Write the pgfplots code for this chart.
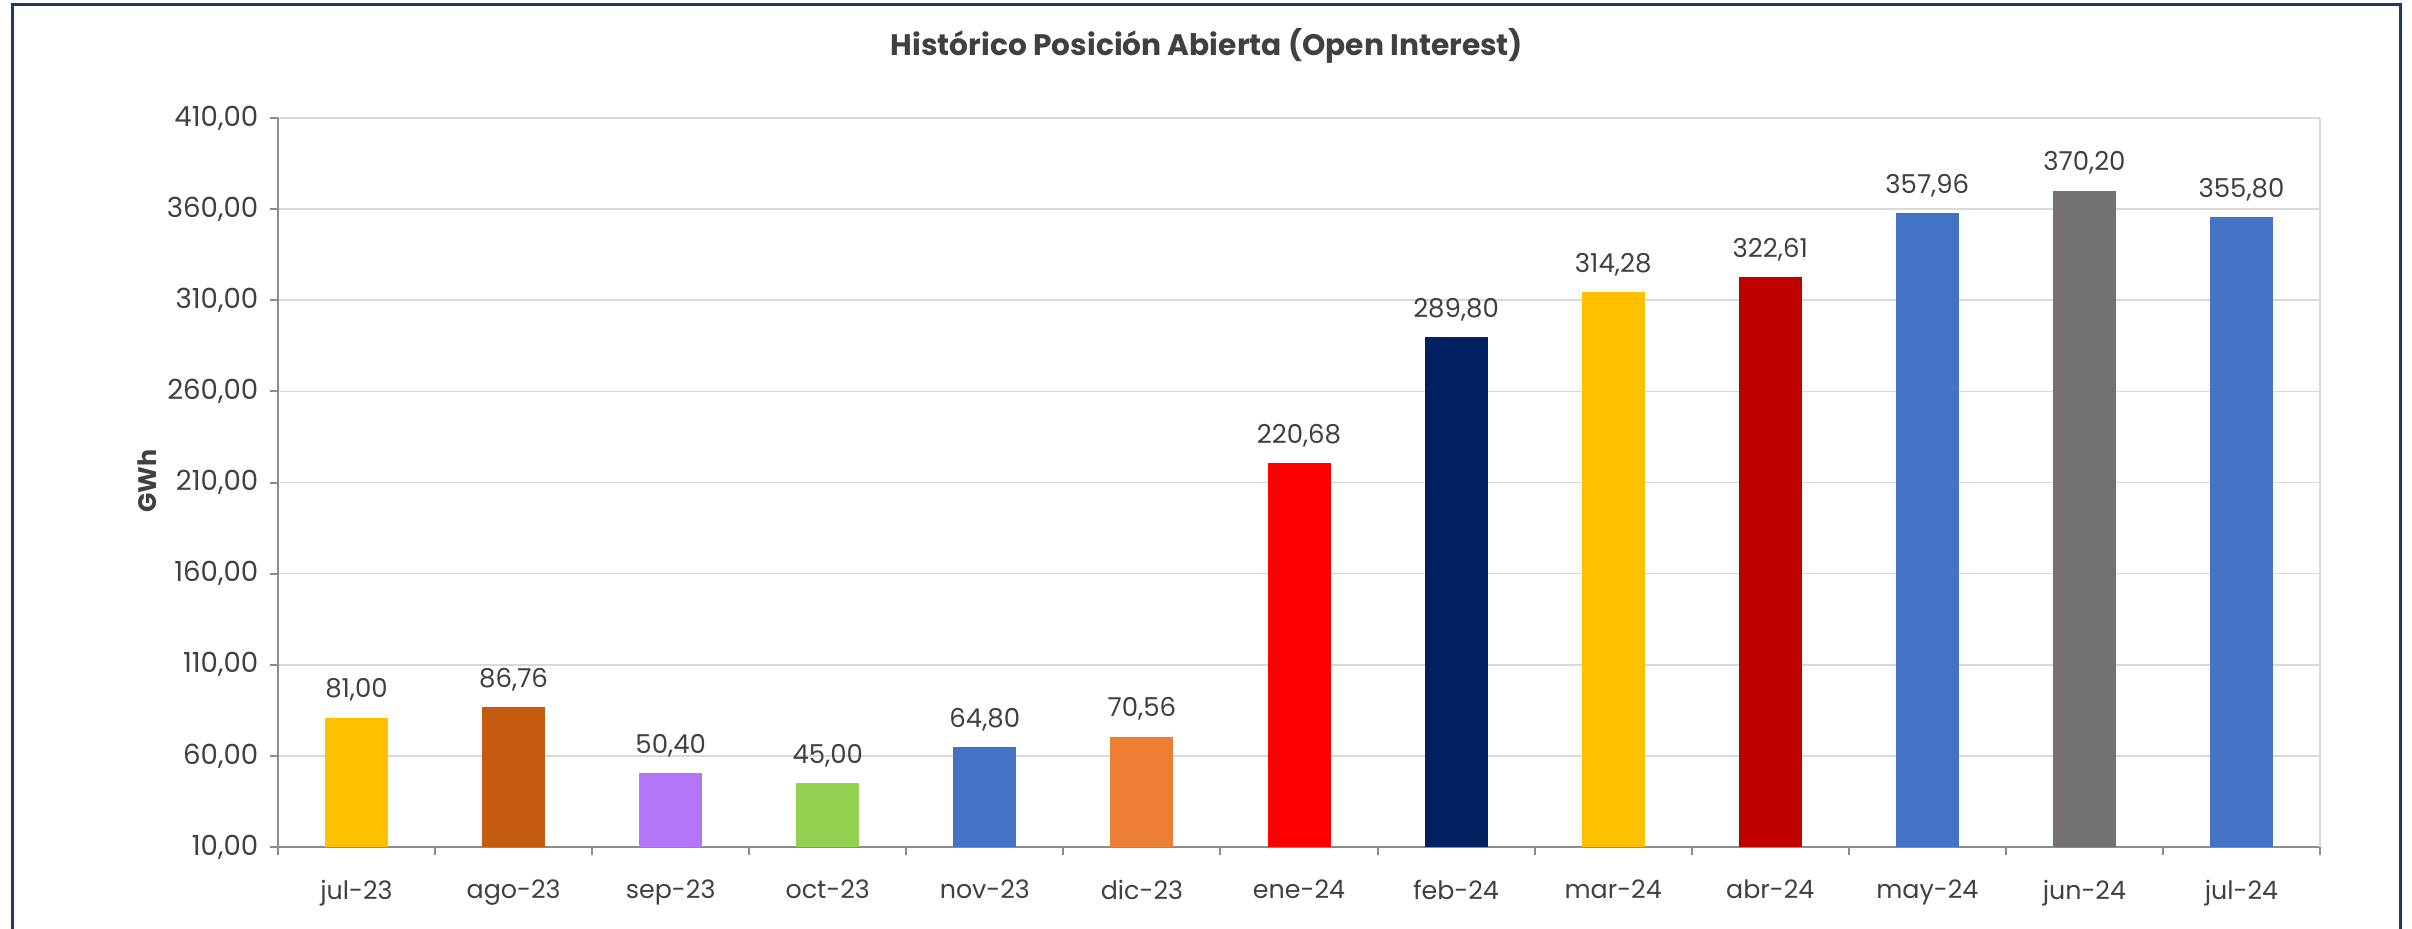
\documentclass[border=0pt]{standalone}
\usepackage{pgfplots}
\pgfplotsset{compat=1.18}
\usepackage{fontspec}
\setmainfont{Poppins}
\definecolor{txt}{HTML}{404040}
\definecolor{gridc}{HTML}{D9D9D9}
\definecolor{axc}{HTML}{8C8C8C}
\definecolor{frame}{HTML}{1F3864}
\definecolor{c1}{HTML}{FFC000}
\definecolor{c2}{HTML}{C55A11}
\definecolor{c3}{HTML}{B376F8}
\definecolor{c4}{HTML}{92D050}
\definecolor{c5}{HTML}{4472C4}
\definecolor{c6}{HTML}{ED7D31}
\definecolor{c7}{HTML}{FF0000}
\definecolor{c8}{HTML}{002060}
\definecolor{c9}{HTML}{FFC000}
\definecolor{c10}{HTML}{C00000}
\definecolor{c11}{HTML}{4472C4}
\definecolor{c12}{HTML}{767171}
\definecolor{c13}{HTML}{4472C4}
\begin{document}
\begin{tikzpicture}
\path[use as bounding box] (0pt,0pt) rectangle (723.6pt,278.7pt);
\draw[frame, line width=0.9pt] (3.6pt,277.2pt) -- (720pt,277.2pt) -- (720pt,-6pt) -- (3.6pt,-6pt) -- cycle;
\node[font=\bfseries\fontsize{8.9}{10}\selectfont, text=txt] at (362.1pt,264.9pt) {Histórico Posición Abierta (Open Interest)};
\node[font=\bfseries\fontsize{7.6}{9}\selectfont, text=txt, rotate=90] at (44.1pt,134.4pt) {GWh};
\begin{axis}[
  at={(83.4pt,24.6pt)}, anchor=south west,
  scale only axis, width=612.6pt, height=218.7pt,
  xmin=-0.5, xmax=12.5, ymin=10, ymax=410,
  ytick={10,60,...,410},
  xtick={0,...,12},
  xticklabels={jul-23,ago-23,sep-23,oct-23,nov-23,dic-23,ene-24,feb-24,mar-24,abr-24,may-24,jun-24,jul-24},
  minor xtick={-0.5,0.5,...,12.5},
  axis lines*=left,
  axis line style={axc, line width=0.6pt},
  ymajorgrids, grid style={gridc, line width=0.5pt},
  tick align=outside,
  major tick length=2.5pt, minor tick length=2.5pt,
  x tick style={draw=none},
  minor x tick style={draw=axc, line width=0.6pt},
  y tick style={axc, line width=0.6pt},
  tick label style={font=\fontsize{7.6}{9}\selectfont, text=txt},
  /pgf/number format/assume math mode=true,
  yticklabel={\pgfmathprintnumber[fixed,zerofill,precision=2,use comma]{\tick}},
  yticklabel style={inner sep=0pt, xshift=-3.2pt, font=\fontsize{8.3}{9}\selectfont},
  xticklabel style={inner sep=0pt, yshift=-7.2pt},
  nodes near coords={\pgfmathprintnumber[fixed,zerofill,precision=2,use comma,assume math mode=true]{\pgfplotspointmeta}},
  every node near coord/.append style={font=\fontsize{7.8}{9}\selectfont, text=txt, anchor=south, inner sep=0pt, yshift=4.6pt},
  point meta=y,
  clip=false,
]
\pgfplotsset{every axis plot/.append style={ybar, bar width=18.9pt, bar shift=0pt, draw=none}}
\addplot[fill=c1] coordinates {(0,81.00)};
\addplot[fill=c2] coordinates {(1,86.76)};
\addplot[fill=c3] coordinates {(2,50.40)};
\addplot[fill=c4] coordinates {(3,45.00)};
\addplot[fill=c5] coordinates {(4,64.80)};
\addplot[fill=c6] coordinates {(5,70.56)};
\addplot[fill=c7] coordinates {(6,220.68)};
\addplot[fill=c8] coordinates {(7,289.80)};
\addplot[fill=c9] coordinates {(8,314.28)};
\addplot[fill=c10] coordinates {(9,322.61)};
\addplot[fill=c11] coordinates {(10,357.96)};
\addplot[fill=c12] coordinates {(11,370.20)};
\addplot[fill=c13] coordinates {(12,355.80)};
\draw[gridc, line width=0.5pt] (rel axis cs:1,0) -- (rel axis cs:1,1);
\end{axis}
\end{tikzpicture}
\end{document}
